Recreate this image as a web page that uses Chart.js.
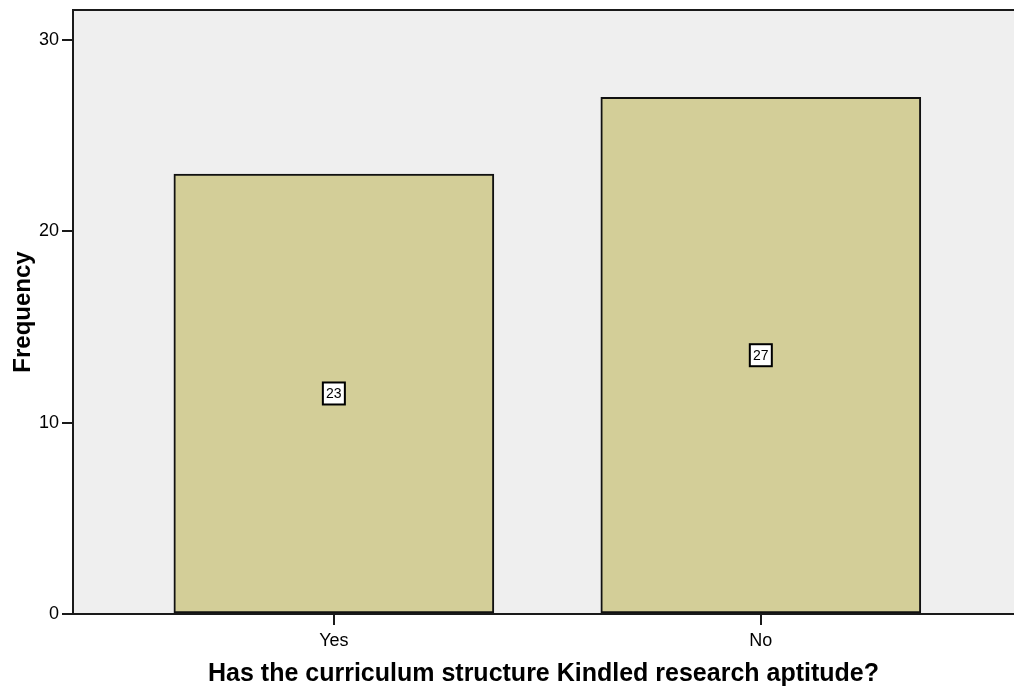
<!DOCTYPE html>
<html>
<head>
<meta charset="utf-8">
<script src="https://cdn.jsdelivr.net/npm/chart.js@4/dist/chart.umd.min.js"></script>
<style>
  html, body { margin: 0; padding: 0; background: #fff; }
  #wrap { width: 1014px; height: 689px; }
</style>
</head>
<body>
<div id="wrap"><canvas id="myChart" width="1014" height="689"></canvas></div>
<script>
var categories = ["Yes", "No"];
var frequencies = [23, 27];
var yTicks = [0, 10, 20, 30];

var barColor = "#D3CE98";

// background of the plot area plus the top border line
var plotBackground = {
  id: "plotBackground",
  beforeDraw: function (chart) {
    var ctx = chart.ctx;
    var a = chart.chartArea;
    ctx.save();
    ctx.fillStyle = "#EFEFEF";
    ctx.fillRect(a.left, a.top, a.right - a.left, a.bottom - a.top);
    ctx.strokeStyle = "#1a1a1a";
    ctx.lineWidth = 2;
    ctx.beginPath();
    ctx.moveTo(a.left, a.top);
    ctx.lineTo(a.right, a.top);
    ctx.stroke();
    ctx.restore();
  }
};

// boxed count label in the middle of each bar
var boxLabels = {
  id: "boxLabels",
  afterDatasetsDraw: function (chart) {
    var ctx = chart.ctx;
    var meta = chart.getDatasetMeta(0);
    ctx.save();
    ctx.font = "14px 'Liberation Sans', Arial, sans-serif";
    ctx.textAlign = "center";
    ctx.textBaseline = "middle";
    meta.data.forEach(function (bar, i) {
      var p = bar.getProps(["x", "y", "base"], true);
      var cy = (p.y + p.base) / 2;
      var w = 22, h = 22;
      ctx.fillStyle = "#fff";
      ctx.fillRect(p.x - w / 2, cy - h / 2, w, h);
      ctx.strokeStyle = "#000";
      ctx.lineWidth = 2;
      ctx.strokeRect(p.x - w / 2, cy - h / 2, w, h);
      ctx.fillStyle = "#000";
      ctx.fillText(String(frequencies[i]), p.x, cy + 1);
    });
    ctx.restore();
  }
};

var points = frequencies.map(function (v, i) {
  return { x: i, y: v };
});

var chart = new Chart(document.getElementById("myChart"), {
  type: "bar",
  data: {
    datasets: [
      {
        data: points,
        backgroundColor: barColor,
        borderColor: "#111",
        borderWidth: 2,
        borderSkipped: false,
        barThickness: 320
      }
    ]
  },
  plugins: [plotBackground, boxLabels],
  options: {
    responsive: false,
    animation: false,
    layout: { padding: { top: 10, right: 0, left: 0, bottom: 0 } },
    plugins: {
      legend: { display: false },
      tooltip: { enabled: false }
    },
    scales: {
      x: {
        type: "linear",
        offset: false,
        min: -0.611,
        max: 1.593,
        afterBuildTicks: function (axis) {
          axis.ticks = categories.map(function (c, i) { return { value: i }; });
        },
        afterFit: function (axis) {
          axis.height = 75;
          axis.paddingLeft = 0;
          axis.paddingRight = 0;
        },
        ticks: {
          color: "#000",
          padding: 5,
          font: { family: "'Liberation Sans', Arial, sans-serif", size: 18 },
          callback: function (v) { return categories[v]; }
        },
        grid: {
          offset: false,
          drawOnChartArea: false,
          drawTicks: true,
          tickLength: 11,
          color: "#1a1a1a",
          lineWidth: 2
        },
        border: { display: true, color: "#1a1a1a", width: 2 },
        title: {
          display: true,
          text: "Has the curriculum structure Kindled research aptitude?",
          color: "#000",
          font: { family: "'Liberation Sans', Arial, sans-serif", size: 25, weight: "bold" },
          padding: { top: 0, bottom: 0 }
        }
      },
      y: {
        min: 0,
        max: 31.57,
        afterBuildTicks: function (axis) {
          axis.ticks = yTicks.map(function (v) { return { value: v }; });
        },
        afterFit: function (axis) {
          axis.width = 73;
          axis.paddingTop = 0;
          axis.paddingBottom = 0;
        },
        ticks: {
          color: "#000",
          padding: 3,
          font: { family: "'Liberation Sans', Arial, sans-serif", size: 18 }
        },
        grid: {
          drawOnChartArea: false,
          drawTicks: true,
          tickLength: 11,
          color: "#1a1a1a",
          lineWidth: 2
        },
        border: { display: true, color: "#1a1a1a", width: 2 },
        title: {
          display: true,
          text: "Frequency",
          color: "#000",
          font: { family: "'Liberation Sans', Arial, sans-serif", size: 24, weight: "bold" },
          padding: { top: 9, bottom: 0 }
        }
      }
    }
  }
});
</script>
</body>
</html>
